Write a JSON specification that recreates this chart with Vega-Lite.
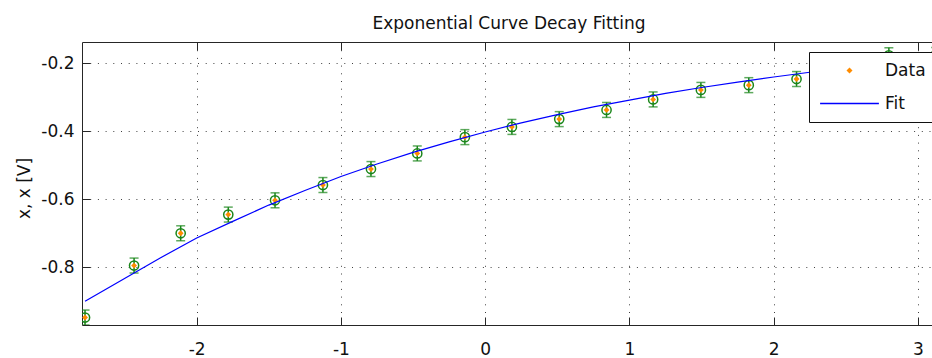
{
  "$schema": "https://vega.github.io/schema/vega-lite/v6.json",
  "width": 850,
  "height": 283,
  "autosize": {"type": "none"},
  "padding": {"left": 82, "top": 42, "right": 0, "bottom": 33},
  "background": "white",
  "config": {
    "font": "DejaVu Sans",
    "view": {"stroke": null}
  },
  "title": {
    "text": "Exponential Curve Decay Fitting",
    "font": "DejaVu Sans",
    "fontSize": 17,
    "fontWeight": "normal",
    "color": "#111111",
    "anchor": "middle",
    "baseline": "alphabetic",
    "offset": -4,
    "dx": 2
  },
  "datasets": {
    "measured": [
      {"x": -2.774, "y": -0.948, "err": 0.022},
      {"x": -2.434, "y": -0.795, "err": 0.022},
      {"x": -2.111, "y": -0.700, "err": 0.022},
      {"x": -1.781, "y": -0.645, "err": 0.022},
      {"x": -1.457, "y": -0.603, "err": 0.022},
      {"x": -1.125, "y": -0.558, "err": 0.022},
      {"x": -0.792, "y": -0.511, "err": 0.022},
      {"x": -0.471, "y": -0.465, "err": 0.022},
      {"x": -0.141, "y": -0.417, "err": 0.022},
      {"x": 0.185, "y": -0.387, "err": 0.022},
      {"x": 0.513, "y": -0.364, "err": 0.022},
      {"x": 0.841, "y": -0.337, "err": 0.022},
      {"x": 1.164, "y": -0.306, "err": 0.022},
      {"x": 1.495, "y": -0.278, "err": 0.022},
      {"x": 1.827, "y": -0.264, "err": 0.022},
      {"x": 2.158, "y": -0.246, "err": 0.022},
      {"x": 2.479, "y": -0.212, "err": 0.022},
      {"x": 2.798, "y": -0.176, "err": 0.022},
      {"x": 3.123, "y": -0.175, "err": 0.022}
    ],
    "fit": [
      {"x": -2.774, "y": -0.900},
      {"x": -2.5, "y": -0.833},
      {"x": -2.25, "y": -0.772},
      {"x": -2.0, "y": -0.714},
      {"x": -1.75, "y": -0.665},
      {"x": -1.5, "y": -0.617},
      {"x": -1.25, "y": -0.574},
      {"x": -1.0, "y": -0.533},
      {"x": -0.75, "y": -0.496},
      {"x": -0.5, "y": -0.462},
      {"x": -0.25, "y": -0.431},
      {"x": 0.0, "y": -0.402},
      {"x": 0.25, "y": -0.375},
      {"x": 0.5, "y": -0.351},
      {"x": 0.75, "y": -0.328},
      {"x": 1.0, "y": -0.308},
      {"x": 1.25, "y": -0.288},
      {"x": 1.5, "y": -0.271},
      {"x": 1.75, "y": -0.255},
      {"x": 2.0, "y": -0.240},
      {"x": 2.25, "y": -0.226},
      {"x": 2.5, "y": -0.213},
      {"x": 2.75, "y": -0.202},
      {"x": 3.0, "y": -0.191},
      {"x": 3.123, "y": -0.186}
    ]
  },
  "resolve": {"axis": {"x": "independent", "y": "independent"}},
  "layer": [
    {
      "data": {"name": "measured"},
      "mark": {
        "type": "errorbar",
        "color": "#1a861a",
        "thickness": 1.5,
        "ticks": {"size": 9, "thickness": 1.5, "color": "#1a861a"},
        "clip": true
      },
      "encoding": {
        "x": {"field": "x", "type": "quantitative", "scale": {"domain": [-2.795, 3.097], "nice": false, "zero": false}, "axis": null},
        "y": {"field": "y", "type": "quantitative", "scale": {"domain": [-0.97, -0.137], "nice": false, "zero": false}, "axis": null},
        "yError": {"field": "err"}
      }
    },
    {
      "data": {"name": "measured"},
      "mark": {"type": "point", "shape": "circle", "filled": false, "size": 85, "strokeWidth": 1.5, "color": "#1a861a", "opacity": 1, "clip": true},
      "encoding": {
        "x": {
          "field": "x", "type": "quantitative",
          "scale": {"domain": [-2.795, 3.097], "nice": false, "zero": false},
          "axis": {
            "orient": "top", "values": [-2, -1, 0, 1, 2, 3], "labels": false, "grid": false,
            "title": null, "tickSize": -8, "tickColor": "#262626", "tickWidth": 1,
            "domainColor": "#262626", "domainWidth": 1
          }
        },
        "y": {"field": "y", "type": "quantitative", "axis": null}
      }
    },
    {
      "data": {"name": "measured"},
      "mark": {"type": "point", "filled": true, "size": 34, "opacity": 1, "clip": true},
      "encoding": {
        "x": {"field": "x", "type": "quantitative", "axis": null},
        "y": {"field": "y", "type": "quantitative", "axis": null},
        "shape": {
          "datum": "Data",
          "scale": {"domain": ["Data", "Fit"], "range": ["diamond", "M-9.8,-0.25H9.8V0.25H-9.8Z"]},
          "legend": null
        },
        "color": {
          "datum": "Data",
          "scale": {"domain": ["Data", "Fit"], "range": ["#ff8c00", "#0000ff"]},
          "legend": {
            "orient": "none",
            "legendX": 727,
            "legendY": 10,
            "title": null,
            "padding": 10,
            "strokeColor": "#111111",
            "fillColor": "white",
            "labelFont": "DejaVu Sans",
            "labelFontSize": 17,
            "labelColor": "#111111",
            "symbolSize": 36,
            "symbolStrokeWidth": 0,
            "symbolOffset": 22,
            "labelOffset": 27,
            "rowPadding": 15,
            "encode": {
              "labels": {"dy": {"value": 3}}
            }
          }
        }
      }
    },
    {
      "data": {"name": "fit"},
      "mark": {"type": "line", "strokeWidth": 1.2, "clip": true},
      "encoding": {
        "x": {
          "field": "x", "type": "quantitative",
          "axis": {
            "orient": "bottom", "values": [-2, -1, 0, 1, 2, 3], "labelExpr": "'' + datum.value",
            "title": null, "tickSize": -8, "tickColor": "#262626", "tickWidth": 1,
            "domainColor": "#262626", "domainWidth": 1,
            "labelFont": "DejaVu Sans", "labelFontSize": 17, "labelColor": "#111111",
            "labelBaseline": "alphabetic", "labelPadding": 37, "labelFlush": false,
            "grid": true, "gridColor": "#000000", "gridOpacity": 0.75, "gridDash": [1, 6.7], "gridWidth": 1
          }
        },
        "y": {
          "field": "y", "type": "quantitative",
          "axis": {
            "orient": "left", "values": [-0.8, -0.6, -0.4, -0.2], "labelExpr": "'' + datum.value",
            "title": "x, x [V]", "titleFont": "DejaVu Sans", "titleFontSize": 17, "titleFontWeight": "normal",
            "titleColor": "#111111", "titleAngle": -90, "titleX": -58, "titleY": 146,
            "titleAlign": "center", "titleBaseline": "middle",
            "tickSize": -8, "tickColor": "#262626", "tickWidth": 1,
            "domainColor": "#262626", "domainWidth": 1,
            "labelFont": "DejaVu Sans", "labelFontSize": 17, "labelColor": "#111111",
            "labelPadding": 16, "labelFlush": false,
            "grid": true, "gridColor": "#000000", "gridOpacity": 0.75, "gridDash": [1, 6.7], "gridWidth": 1
          }
        },
        "color": {"datum": "Fit"}
      }
    }
  ]
}
